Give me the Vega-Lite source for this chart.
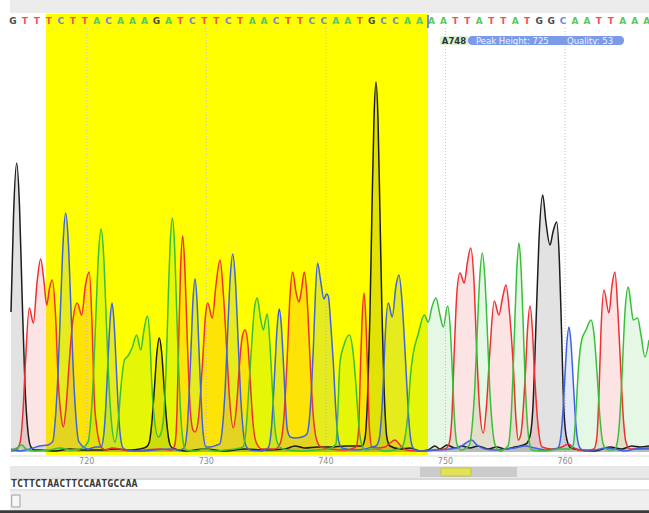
{
"$schema": "https://vega.github.io/schema/vega-lite/v6.json",
"width": 649, "height": 513, "padding": 0, "autosize": {"type": "none"},
"background": "white",
"config": {"view": {"stroke": null}},
"data": {"values": [{}]},
"datasets": {
"ticks": [{"pos":720},{"pos":730},{"pos":740},{"pos":750},{"pos":760}],
"calls": [{"pos":714,"base":"G"},{"pos":715,"base":"T"},{"pos":716,"base":"T"},{"pos":717,"base":"T"},{"pos":718,"base":"C"},{"pos":719,"base":"T"},{"pos":720,"base":"T"},{"pos":721,"base":"A"},{"pos":722,"base":"C"},{"pos":723,"base":"A"},{"pos":724,"base":"A"},{"pos":725,"base":"A"},{"pos":726,"base":"G"},{"pos":727,"base":"A"},{"pos":728,"base":"T"},{"pos":729,"base":"C"},{"pos":730,"base":"T"},{"pos":731,"base":"T"},{"pos":732,"base":"C"},{"pos":733,"base":"T"},{"pos":734,"base":"A"},{"pos":735,"base":"A"},{"pos":736,"base":"C"},{"pos":737,"base":"T"},{"pos":738,"base":"T"},{"pos":739,"base":"C"},{"pos":740,"base":"C"},{"pos":741,"base":"A"},{"pos":742,"base":"A"},{"pos":743,"base":"T"},{"pos":744,"base":"G"},{"pos":745,"base":"C"},{"pos":746,"base":"C"},{"pos":747,"base":"A"},{"pos":748,"base":"A"},{"pos":749,"base":"A"},{"pos":750,"base":"A"},{"pos":751,"base":"T"},{"pos":752,"base":"T"},{"pos":753,"base":"A"},{"pos":754,"base":"T"},{"pos":755,"base":"T"},{"pos":756,"base":"A"},{"pos":757,"base":"T"},{"pos":758,"base":"G"},{"pos":759,"base":"G"},{"pos":760,"base":"C"},{"pos":761,"base":"A"},{"pos":762,"base":"A"},{"pos":763,"base":"T"},{"pos":764,"base":"T"},{"pos":765,"base":"A"},{"pos":766,"base":"A"},{"pos":767,"base":"A"}],
"tr": [
{"base":"G","pos":713.67,"signal":700},{"base":"G","pos":713.88,"signal":1180},{"base":"G","pos":714.15,"signal":1445},{"base":"G","pos":714.38,"signal":1230},{"base":"G","pos":714.59,"signal":800},{"base":"G","pos":714.84,"signal":330},{"base":"G","pos":715.09,"signal":100},{"base":"G","pos":715.34,"signal":25},{"base":"G","pos":715.68,"signal":10},{"base":"G","pos":716.10,"signal":10},{"base":"G","pos":717.35,"signal":5},{"base":"G","pos":718.60,"signal":15},{"base":"G","pos":719.86,"signal":10},{"base":"G","pos":721.11,"signal":10},{"base":"G","pos":722.37,"signal":15},{"base":"G","pos":723.62,"signal":10},{"base":"G","pos":724.46,"signal":15},{"base":"G","pos":724.98,"signal":25},{"base":"G","pos":725.23,"signal":48},{"base":"G","pos":725.44,"signal":143},{"base":"G","pos":725.65,"signal":308},{"base":"G","pos":725.86,"signal":490},{"base":"G","pos":726.07,"signal":570},{"base":"G","pos":726.28,"signal":490},{"base":"G","pos":726.49,"signal":308},{"base":"G","pos":726.70,"signal":143},{"base":"G","pos":726.91,"signal":48},{"base":"G","pos":727.16,"signal":20},{"base":"G","pos":728.22,"signal":5},{"base":"G","pos":729.89,"signal":15},{"base":"G","pos":731.56,"signal":5},{"base":"G","pos":733.24,"signal":15},{"base":"G","pos":734.91,"signal":10},{"base":"G","pos":736.58,"signal":15},{"base":"G","pos":737.42,"signal":30},{"base":"G","pos":738.25,"signal":20},{"base":"G","pos":739.34,"signal":25},{"base":"G","pos":740.34,"signal":25},{"base":"G","pos":741.60,"signal":30},{"base":"G","pos":742.43,"signal":30},{"base":"G","pos":743.02,"signal":30},{"base":"G","pos":743.27,"signal":70},{"base":"G","pos":743.52,"signal":330},{"base":"G","pos":743.69,"signal":700},{"base":"G","pos":743.85,"signal":1200},{"base":"G","pos":744.02,"signal":1660},{"base":"G","pos":744.19,"signal":1850},{"base":"G","pos":744.36,"signal":1660},{"base":"G","pos":744.52,"signal":1200},{"base":"G","pos":744.69,"signal":700},{"base":"G","pos":744.86,"signal":330},{"base":"G","pos":745.11,"signal":70},{"base":"G","pos":745.36,"signal":30},{"base":"G","pos":746.20,"signal":15},{"base":"G","pos":747.03,"signal":20},{"base":"G","pos":747.87,"signal":5},{"base":"G","pos":748.54,"signal":10},{"base":"G","pos":749.12,"signal":30},{"base":"G","pos":749.54,"signal":15},{"base":"G","pos":750.13,"signal":35},{"base":"G","pos":750.79,"signal":20},{"base":"G","pos":751.38,"signal":30},{"base":"G","pos":752.05,"signal":20},{"base":"G","pos":752.72,"signal":30},{"base":"G","pos":753.55,"signal":15},{"base":"G","pos":754.31,"signal":25},{"base":"G","pos":754.98,"signal":15},{"base":"G","pos":755.81,"signal":25},{"base":"G","pos":756.73,"signal":40},{"base":"G","pos":757.07,"signal":80},{"base":"G","pos":757.32,"signal":230},{"base":"G","pos":757.57,"signal":640},{"base":"G","pos":757.82,"signal":1060},{"base":"G","pos":758.13,"signal":1285},{"base":"G","pos":758.40,"signal":1150},{"base":"G","pos":758.74,"signal":1035},{"base":"G","pos":758.99,"signal":1100},{"base":"G","pos":759.30,"signal":1150},{"base":"G","pos":759.53,"signal":950},{"base":"G","pos":759.70,"signal":620},{"base":"G","pos":759.91,"signal":200},{"base":"G","pos":760.16,"signal":60},{"base":"G","pos":760.49,"signal":20},{"base":"G","pos":761.25,"signal":10},{"base":"G","pos":762.50,"signal":5},{"base":"G","pos":763.75,"signal":25},{"base":"G","pos":764.76,"signal":15},{"base":"G","pos":765.59,"signal":30},{"base":"G","pos":766.26,"signal":25},{"base":"G","pos":767.02,"signal":30},
{"base":"T","pos":713.67,"signal":5},{"base":"T","pos":714.09,"signal":10},{"base":"T","pos":714.42,"signal":45},{"base":"T","pos":714.67,"signal":200},{"base":"T","pos":714.88,"signal":450},{"base":"T","pos":715.20,"signal":720},{"base":"T","pos":715.54,"signal":645},{"base":"T","pos":715.85,"signal":850},{"base":"T","pos":716.15,"signal":965},{"base":"T","pos":716.43,"signal":850},{"base":"T","pos":716.66,"signal":735},{"base":"T","pos":716.89,"signal":820},{"base":"T","pos":717.12,"signal":860},{"base":"T","pos":717.39,"signal":690},{"base":"T","pos":717.63,"signal":345},{"base":"T","pos":717.84,"signal":190},{"base":"T","pos":718.04,"signal":125},{"base":"T","pos":718.27,"signal":220},{"base":"T","pos":718.52,"signal":430},{"base":"T","pos":718.77,"signal":620},{"base":"T","pos":719.21,"signal":745},{"base":"T","pos":719.58,"signal":685},{"base":"T","pos":719.90,"signal":835},{"base":"T","pos":720.22,"signal":900},{"base":"T","pos":720.47,"signal":595},{"base":"T","pos":720.64,"signal":260},{"base":"T","pos":720.84,"signal":125},{"base":"T","pos":721.07,"signal":45},{"base":"T","pos":721.28,"signal":20},{"base":"T","pos":721.61,"signal":10},{"base":"T","pos":722.12,"signal":20},{"base":"T","pos":722.78,"signal":15},{"base":"T","pos":723.62,"signal":5},{"base":"T","pos":724.88,"signal":10},{"base":"T","pos":726.13,"signal":15},{"base":"T","pos":727.13,"signal":10},{"base":"T","pos":727.38,"signal":40},{"base":"T","pos":727.55,"signal":200},{"base":"T","pos":727.68,"signal":520},{"base":"T","pos":727.84,"signal":900},{"base":"T","pos":728.03,"signal":1080},{"base":"T","pos":728.22,"signal":900},{"base":"T","pos":728.43,"signal":530},{"base":"T","pos":728.64,"signal":230},{"base":"T","pos":728.89,"signal":110},{"base":"T","pos":729.06,"signal":100},{"base":"T","pos":729.31,"signal":150},{"base":"T","pos":729.56,"signal":330},{"base":"T","pos":729.75,"signal":510},{"base":"T","pos":729.93,"signal":680},{"base":"T","pos":730.12,"signal":745},{"base":"T","pos":730.50,"signal":670},{"base":"T","pos":730.81,"signal":835},{"base":"T","pos":731.15,"signal":960},{"base":"T","pos":731.44,"signal":780},{"base":"T","pos":731.71,"signal":510},{"base":"T","pos":731.94,"signal":270},{"base":"T","pos":732.26,"signal":120},{"base":"T","pos":732.53,"signal":230},{"base":"T","pos":732.78,"signal":440},{"base":"T","pos":732.99,"signal":570},{"base":"T","pos":733.24,"signal":610},{"base":"T","pos":733.49,"signal":530},{"base":"T","pos":733.70,"signal":330},{"base":"T","pos":733.90,"signal":150},{"base":"T","pos":734.16,"signal":50},{"base":"T","pos":734.66,"signal":15},{"base":"T","pos":735.74,"signal":15},{"base":"T","pos":736.16,"signal":40},{"base":"T","pos":736.50,"signal":180},{"base":"T","pos":736.75,"signal":450},{"base":"T","pos":737.00,"signal":780},{"base":"T","pos":737.22,"signal":900},{"base":"T","pos":737.50,"signal":800},{"base":"T","pos":737.75,"signal":750},{"base":"T","pos":737.96,"signal":810},{"base":"T","pos":738.19,"signal":900},{"base":"T","pos":738.42,"signal":780},{"base":"T","pos":738.67,"signal":470},{"base":"T","pos":738.92,"signal":200},{"base":"T","pos":739.23,"signal":60},{"base":"T","pos":739.59,"signal":25},{"base":"T","pos":740.34,"signal":15},{"base":"T","pos":741.60,"signal":10},{"base":"T","pos":742.35,"signal":20},{"base":"T","pos":742.52,"signal":25},{"base":"T","pos":742.73,"signal":110},{"base":"T","pos":742.89,"signal":420},{"base":"T","pos":743.02,"signal":650},{"base":"T","pos":743.19,"signal":795},{"base":"T","pos":743.35,"signal":650},{"base":"T","pos":743.48,"signal":420},{"base":"T","pos":743.65,"signal":110},{"base":"T","pos":743.85,"signal":25},{"base":"T","pos":744.27,"signal":20},{"base":"T","pos":744.94,"signal":25},{"base":"T","pos":745.36,"signal":45},{"base":"T","pos":745.78,"signal":60},{"base":"T","pos":746.20,"signal":35},{"base":"T","pos":746.70,"signal":10},{"base":"T","pos":747.87,"signal":5},{"base":"T","pos":749.12,"signal":10},{"base":"T","pos":749.96,"signal":15},{"base":"T","pos":750.29,"signal":40},{"base":"T","pos":750.54,"signal":180},{"base":"T","pos":750.74,"signal":510},{"base":"T","pos":750.96,"signal":800},{"base":"T","pos":751.21,"signal":895},{"base":"T","pos":751.57,"signal":845},{"base":"T","pos":751.84,"signal":950},{"base":"T","pos":752.11,"signal":1020},{"base":"T","pos":752.38,"signal":860},{"base":"T","pos":752.61,"signal":510},{"base":"T","pos":752.84,"signal":230},{"base":"T","pos":753.16,"signal":95},{"base":"T","pos":753.43,"signal":230},{"base":"T","pos":753.72,"signal":510},{"base":"T","pos":754.08,"signal":755},{"base":"T","pos":754.47,"signal":685},{"base":"T","pos":754.77,"signal":770},{"base":"T","pos":755.06,"signal":835},{"base":"T","pos":755.35,"signal":700},{"base":"T","pos":755.67,"signal":430},{"base":"T","pos":755.90,"signal":160},{"base":"T","pos":756.09,"signal":60},{"base":"T","pos":756.31,"signal":90},{"base":"T","pos":756.52,"signal":230},{"base":"T","pos":756.69,"signal":400},{"base":"T","pos":756.86,"signal":610},{"base":"T","pos":757.07,"signal":730},{"base":"T","pos":757.27,"signal":610},{"base":"T","pos":757.44,"signal":400},{"base":"T","pos":757.61,"signal":230},{"base":"T","pos":757.82,"signal":90},{"base":"T","pos":758.07,"signal":25},{"base":"T","pos":758.91,"signal":15},{"base":"T","pos":759.74,"signal":25},{"base":"T","pos":760.27,"signal":40},{"base":"T","pos":760.74,"signal":20},{"base":"T","pos":761.66,"signal":5},{"base":"T","pos":762.42,"signal":15},{"base":"T","pos":762.67,"signal":80},{"base":"T","pos":762.84,"signal":300},{"base":"T","pos":763.00,"signal":600},{"base":"T","pos":763.25,"signal":810},{"base":"T","pos":763.67,"signal":695},{"base":"T","pos":763.92,"signal":830},{"base":"T","pos":764.17,"signal":900},{"base":"T","pos":764.42,"signal":700},{"base":"T","pos":764.63,"signal":450},{"base":"T","pos":764.84,"signal":200},{"base":"T","pos":765.09,"signal":50},{"base":"T","pos":765.43,"signal":15},{"base":"T","pos":767.02,"signal":15},
{"base":"C","pos":713.67,"signal":15},{"base":"C","pos":714.42,"signal":5},{"base":"C","pos":715.26,"signal":15},{"base":"C","pos":716.10,"signal":30},{"base":"C","pos":716.76,"signal":35},{"base":"C","pos":717.16,"signal":53},{"base":"C","pos":717.41,"signal":191},{"base":"C","pos":717.62,"signal":418},{"base":"C","pos":717.83,"signal":753},{"base":"C","pos":718.04,"signal":1064},{"base":"C","pos":718.24,"signal":1195},{"base":"C","pos":718.45,"signal":1064},{"base":"C","pos":718.66,"signal":753},{"base":"C","pos":718.87,"signal":418},{"base":"C","pos":719.08,"signal":191},{"base":"C","pos":719.33,"signal":53},{"base":"C","pos":720.11,"signal":15},{"base":"C","pos":720.78,"signal":25},{"base":"C","pos":721.20,"signal":25},{"base":"C","pos":721.45,"signal":100},{"base":"C","pos":721.61,"signal":240},{"base":"C","pos":721.78,"signal":455},{"base":"C","pos":721.95,"signal":655},{"base":"C","pos":722.12,"signal":745},{"base":"C","pos":722.28,"signal":655},{"base":"C","pos":722.45,"signal":455},{"base":"C","pos":722.62,"signal":240},{"base":"C","pos":722.78,"signal":100},{"base":"C","pos":723.04,"signal":20},{"base":"C","pos":723.45,"signal":10},{"base":"C","pos":724.46,"signal":5},{"base":"C","pos":725.71,"signal":10},{"base":"C","pos":726.97,"signal":15},{"base":"C","pos":727.80,"signal":10},{"base":"C","pos":728.14,"signal":20},{"base":"C","pos":728.39,"signal":105},{"base":"C","pos":728.55,"signal":270},{"base":"C","pos":728.72,"signal":510},{"base":"C","pos":728.89,"signal":760},{"base":"C","pos":729.06,"signal":865},{"base":"C","pos":729.22,"signal":760},{"base":"C","pos":729.39,"signal":510},{"base":"C","pos":729.56,"signal":270},{"base":"C","pos":729.72,"signal":105},{"base":"C","pos":729.98,"signal":25},{"base":"C","pos":730.31,"signal":25},{"base":"C","pos":730.90,"signal":35},{"base":"C","pos":731.12,"signal":40},{"base":"C","pos":731.37,"signal":134},{"base":"C","pos":731.58,"signal":317},{"base":"C","pos":731.79,"signal":604},{"base":"C","pos":732.00,"signal":871},{"base":"C","pos":732.21,"signal":990},{"base":"C","pos":732.42,"signal":871},{"base":"C","pos":732.63,"signal":604},{"base":"C","pos":732.84,"signal":317},{"base":"C","pos":733.04,"signal":134},{"base":"C","pos":733.30,"signal":34},{"base":"C","pos":733.65,"signal":10},{"base":"C","pos":734.66,"signal":5},{"base":"C","pos":735.18,"signal":21},{"base":"C","pos":735.44,"signal":114},{"base":"C","pos":735.60,"signal":257},{"base":"C","pos":735.77,"signal":458},{"base":"C","pos":735.94,"signal":636},{"base":"C","pos":736.10,"signal":715},{"base":"C","pos":736.27,"signal":636},{"base":"C","pos":736.44,"signal":458},{"base":"C","pos":736.61,"signal":257},{"base":"C","pos":736.77,"signal":114},{"base":"C","pos":737.02,"signal":75},{"base":"C","pos":737.42,"signal":70},{"base":"C","pos":738.00,"signal":75},{"base":"C","pos":738.42,"signal":90},{"base":"C","pos":738.63,"signal":170},{"base":"C","pos":738.80,"signal":320},{"base":"C","pos":738.96,"signal":530},{"base":"C","pos":739.13,"signal":800},{"base":"C","pos":739.31,"signal":945},{"base":"C","pos":739.55,"signal":860},{"base":"C","pos":739.84,"signal":765},{"base":"C","pos":740.05,"signal":790},{"base":"C","pos":740.20,"signal":780},{"base":"C","pos":740.43,"signal":620},{"base":"C","pos":740.62,"signal":450},{"base":"C","pos":740.84,"signal":200},{"base":"C","pos":741.05,"signal":60},{"base":"C","pos":741.35,"signal":20},{"base":"C","pos":742.43,"signal":10},{"base":"C","pos":743.27,"signal":15},{"base":"C","pos":743.85,"signal":25},{"base":"C","pos":744.19,"signal":30},{"base":"C","pos":744.44,"signal":60},{"base":"C","pos":744.65,"signal":180},{"base":"C","pos":744.80,"signal":345},{"base":"C","pos":744.98,"signal":600},{"base":"C","pos":745.22,"signal":745},{"base":"C","pos":745.55,"signal":675},{"base":"C","pos":745.86,"signal":830},{"base":"C","pos":746.11,"signal":885},{"base":"C","pos":746.36,"signal":760},{"base":"C","pos":746.57,"signal":560},{"base":"C","pos":746.76,"signal":345},{"base":"C","pos":746.95,"signal":150},{"base":"C","pos":747.17,"signal":40},{"base":"C","pos":747.45,"signal":10},{"base":"C","pos":747.87,"signal":5},{"base":"C","pos":749.12,"signal":10},{"base":"C","pos":750.38,"signal":15},{"base":"C","pos":751.21,"signal":25},{"base":"C","pos":751.71,"signal":45},{"base":"C","pos":752.19,"signal":60},{"base":"C","pos":752.63,"signal":35},{"base":"C","pos":753.30,"signal":15},{"base":"C","pos":754.14,"signal":10},{"base":"C","pos":754.98,"signal":15},{"base":"C","pos":755.81,"signal":20},{"base":"C","pos":756.65,"signal":30},{"base":"C","pos":757.48,"signal":20},{"base":"C","pos":758.32,"signal":10},{"base":"C","pos":759.16,"signal":15},{"base":"C","pos":759.41,"signal":20},{"base":"C","pos":759.66,"signal":85},{"base":"C","pos":759.82,"signal":200},{"base":"C","pos":759.99,"signal":380},{"base":"C","pos":760.16,"signal":550},{"base":"C","pos":760.33,"signal":625},{"base":"C","pos":760.49,"signal":550},{"base":"C","pos":760.66,"signal":380},{"base":"C","pos":760.83,"signal":200},{"base":"C","pos":760.99,"signal":85},{"base":"C","pos":761.25,"signal":20},{"base":"C","pos":761.50,"signal":10},{"base":"C","pos":762.50,"signal":10},{"base":"C","pos":763.34,"signal":20},{"base":"C","pos":764.17,"signal":15},{"base":"C","pos":765.01,"signal":5},{"base":"C","pos":765.85,"signal":15},{"base":"C","pos":767.02,"signal":20},
{"base":"A","pos":713.67,"signal":10},{"base":"A","pos":714.17,"signal":20},{"base":"A","pos":714.57,"signal":35},{"base":"A","pos":714.93,"signal":15},{"base":"A","pos":715.68,"signal":5},{"base":"A","pos":716.93,"signal":10},{"base":"A","pos":717.77,"signal":20},{"base":"A","pos":718.60,"signal":10},{"base":"A","pos":719.44,"signal":15},{"base":"A","pos":720.11,"signal":49},{"base":"A","pos":720.36,"signal":178},{"base":"A","pos":720.57,"signal":390},{"base":"A","pos":720.78,"signal":702},{"base":"A","pos":720.99,"signal":992},{"base":"A","pos":721.20,"signal":1115},{"base":"A","pos":721.41,"signal":992},{"base":"A","pos":721.61,"signal":702},{"base":"A","pos":721.82,"signal":390},{"base":"A","pos":722.03,"signal":178},{"base":"A","pos":722.37,"signal":50},{"base":"A","pos":722.62,"signal":140},{"base":"A","pos":722.87,"signal":330},{"base":"A","pos":723.16,"signal":460},{"base":"A","pos":723.45,"signal":480},{"base":"A","pos":723.79,"signal":520},{"base":"A","pos":724.18,"signal":585},{"base":"A","pos":724.52,"signal":510},{"base":"A","pos":724.79,"signal":610},{"base":"A","pos":725.07,"signal":680},{"base":"A","pos":725.29,"signal":560},{"base":"A","pos":725.44,"signal":345},{"base":"A","pos":725.67,"signal":160},{"base":"A","pos":725.99,"signal":75},{"base":"A","pos":726.24,"signal":100},{"base":"A","pos":726.49,"signal":222},{"base":"A","pos":726.66,"signal":456},{"base":"A","pos":726.82,"signal":772},{"base":"A","pos":726.99,"signal":1053},{"base":"A","pos":727.16,"signal":1170},{"base":"A","pos":727.33,"signal":1053},{"base":"A","pos":727.49,"signal":772},{"base":"A","pos":727.66,"signal":456},{"base":"A","pos":727.83,"signal":222},{"base":"A","pos":728.08,"signal":47},{"base":"A","pos":728.30,"signal":10},{"base":"A","pos":729.06,"signal":5},{"base":"A","pos":729.89,"signal":15},{"base":"A","pos":730.73,"signal":5},{"base":"A","pos":731.56,"signal":10},{"base":"A","pos":732.40,"signal":15},{"base":"A","pos":733.07,"signal":25},{"base":"A","pos":733.32,"signal":110},{"base":"A","pos":733.57,"signal":330},{"base":"A","pos":733.82,"signal":560},{"base":"A","pos":734.03,"signal":720},{"base":"A","pos":734.26,"signal":770},{"base":"A","pos":734.53,"signal":670},{"base":"A","pos":734.77,"signal":610},{"base":"A","pos":734.95,"signal":660},{"base":"A","pos":735.10,"signal":690},{"base":"A","pos":735.33,"signal":530},{"base":"A","pos":735.54,"signal":300},{"base":"A","pos":735.74,"signal":120},{"base":"A","pos":735.99,"signal":40},{"base":"A","pos":736.41,"signal":15},{"base":"A","pos":737.84,"signal":5},{"base":"A","pos":739.09,"signal":10},{"base":"A","pos":740.18,"signal":15},{"base":"A","pos":740.84,"signal":40},{"base":"A","pos":740.97,"signal":160},{"base":"A","pos":741.18,"signal":450},{"base":"A","pos":741.51,"signal":535},{"base":"A","pos":741.96,"signal":585},{"base":"A","pos":742.27,"signal":500},{"base":"A","pos":742.52,"signal":330},{"base":"A","pos":742.73,"signal":150},{"base":"A","pos":742.94,"signal":50},{"base":"A","pos":743.27,"signal":10},{"base":"A","pos":744.11,"signal":15},{"base":"A","pos":744.94,"signal":5},{"base":"A","pos":745.78,"signal":10},{"base":"A","pos":746.36,"signal":25},{"base":"A","pos":746.61,"signal":70},{"base":"A","pos":746.87,"signal":200},{"base":"A","pos":747.07,"signal":380},{"base":"A","pos":747.31,"signal":495},{"base":"A","pos":747.70,"signal":585},{"base":"A","pos":748.23,"signal":685},{"base":"A","pos":748.56,"signal":650},{"base":"A","pos":748.87,"signal":725},{"base":"A","pos":749.21,"signal":770},{"base":"A","pos":749.54,"signal":685},{"base":"A","pos":749.82,"signal":625},{"base":"A","pos":750.18,"signal":730},{"base":"A","pos":750.42,"signal":600},{"base":"A","pos":750.59,"signal":380},{"base":"A","pos":750.75,"signal":170},{"base":"A","pos":750.96,"signal":40},{"base":"A","pos":751.30,"signal":10},{"base":"A","pos":751.99,"signal":34},{"base":"A","pos":752.24,"signal":134},{"base":"A","pos":752.45,"signal":318},{"base":"A","pos":752.66,"signal":607},{"base":"A","pos":752.87,"signal":876},{"base":"A","pos":753.08,"signal":995},{"base":"A","pos":753.29,"signal":876},{"base":"A","pos":753.50,"signal":607},{"base":"A","pos":753.70,"signal":318},{"base":"A","pos":753.91,"signal":134},{"base":"A","pos":754.16,"signal":34},{"base":"A","pos":754.56,"signal":5},{"base":"A","pos":755.23,"signal":31},{"base":"A","pos":755.48,"signal":167},{"base":"A","pos":755.64,"signal":376},{"base":"A","pos":755.81,"signal":669},{"base":"A","pos":755.98,"signal":930},{"base":"A","pos":756.15,"signal":1045},{"base":"A","pos":756.31,"signal":930},{"base":"A","pos":756.48,"signal":669},{"base":"A","pos":756.65,"signal":376},{"base":"A","pos":756.82,"signal":167},{"base":"A","pos":757.07,"signal":31},{"base":"A","pos":757.23,"signal":10},{"base":"A","pos":758.32,"signal":5},{"base":"A","pos":759.57,"signal":15},{"base":"A","pos":760.41,"signal":15},{"base":"A","pos":760.69,"signal":35},{"base":"A","pos":760.91,"signal":200},{"base":"A","pos":761.12,"signal":420},{"base":"A","pos":761.39,"signal":560},{"base":"A","pos":761.75,"signal":610},{"base":"A","pos":762.17,"signal":660},{"base":"A","pos":762.42,"signal":590},{"base":"A","pos":762.67,"signal":400},{"base":"A","pos":762.92,"signal":170},{"base":"A","pos":763.19,"signal":40},{"base":"A","pos":763.59,"signal":10},{"base":"A","pos":764.09,"signal":10},{"base":"A","pos":764.34,"signal":40},{"base":"A","pos":764.55,"signal":150},{"base":"A","pos":764.76,"signal":380},{"base":"A","pos":765.01,"signal":700},{"base":"A","pos":765.29,"signal":825},{"base":"A","pos":765.51,"signal":735},{"base":"A","pos":765.70,"signal":660},{"base":"A","pos":766.07,"signal":670},{"base":"A","pos":766.35,"signal":585},{"base":"A","pos":766.68,"signal":475},{"base":"A","pos":767.02,"signal":560}
]
},
"layer": [
{"mark": {"type": "rect", "color": "#ececec"},
 "encoding": {
  "x": {"datum": 713.59, "type": "quantitative", "scale": {"domain": [712.75, 767.02], "nice": false, "zero": false}, "axis": null},
  "x2": {"datum": 767.02},
  "y": {"datum": 2260, "type": "quantitative", "scale": {"domain": [-305, 2260], "nice": false, "zero": false}, "axis": null},
  "y2": {"datum": 2195}}},
{"mark": {"type": "rect", "color": "#ffff00"},
 "encoding": {"x": {"datum": 716.6, "type": "quantitative", "axis": null}, "x2": {"datum": 748.54}, "y": {"datum": 2190, "type": "quantitative", "axis": null}, "y2": {"datum": -15}}},
{"data": {"name": "ticks"},
 "mark": {"type": "rule", "color": "#c4c4c4", "strokeDash": [1, 2], "strokeWidth": 1},
 "encoding": {"x": {"field": "pos", "type": "quantitative", "axis": null}, "y": {"datum": -15, "type": "quantitative", "axis": null}, "y2": {"datum": 2120}}},
{"mark": {"type": "rule", "color": "#dadada", "strokeWidth": 1},
 "encoding": {"x": {"datum": 713.59, "type": "quantitative", "axis": null}, "x2": {"datum": 767.02}, "y": {"datum": -20, "type": "quantitative", "axis": null}}},
{"data": {"name": "ticks"},
 "mark": {"type": "text", "fontSize": 8, "font": "DejaVu Sans", "color": "#8c8c8c", "baseline": "middle", "align": "center"},
 "encoding": {"x": {"field": "pos", "type": "quantitative", "axis": null}, "y": {"datum": -50, "type": "quantitative", "axis": null}, "text": {"field": "pos", "type": "quantitative"}}},
{"data": {"name": "tr"},
 "mark": {"type": "area", "interpolate": "monotone", "fillOpacity": 0.13},
 "encoding": {
  "x": {"field": "pos", "type": "quantitative", "axis": null},
  "y": {"field": "signal", "type": "quantitative", "stack": null, "axis": null},
  "y2": {"datum": 0},
  "color": {"field": "base", "type": "nominal", "scale": {"domain": ["A", "C", "G", "T"], "range": ["#38c038", "#3f63e0", "#1c1c1c", "#f03030"]}, "legend": null}}},
{"data": {"name": "tr"},
 "mark": {"type": "line", "interpolate": "monotone", "strokeWidth": 1.5},
 "encoding": {
  "x": {"field": "pos", "type": "quantitative", "axis": null},
  "y": {"field": "signal", "type": "quantitative", "axis": null},
  "color": {"field": "base", "type": "nominal", "legend": null}}},
{"data": {"name": "calls"},
 "mark": {"type": "text", "fontSize": 9, "fontWeight": "bold", "font": "DejaVu Sans", "baseline": "middle", "align": "center", "dx": -2},
 "encoding": {
  "x": {"field": "pos", "type": "quantitative", "axis": null},
  "y": {"datum": 2155, "type": "quantitative", "axis": null},
  "text": {"field": "base"},
  "fill": {"field": "base", "type": "nominal", "scale": {"domain": ["A", "C", "G", "T"], "range": ["#5cc85c", "#7185d0", "#4a4a4a", "#ff5050"]}, "legend": null}}},
{"mark": {"type": "rule", "color": "#3b6fd6", "strokeWidth": 1.5},
 "encoding": {"x": {"datum": 748.54, "type": "quantitative", "axis": null}, "y": {"datum": 2185, "type": "quantitative", "axis": null}, "y2": {"datum": 2120}}},
{"mark": {"type": "rect", "color": "#d9f2d2", "cornerRadius": 2},
 "encoding": {"x": {"datum": 749.54, "type": "quantitative", "axis": null}, "x2": {"datum": 751.88}, "y": {"datum": 2080, "type": "quantitative", "axis": null}, "y2": {"datum": 2035}}},
{"mark": {"type": "rect", "color": "#7b9be8", "cornerRadius": 4},
 "encoding": {"x": {"datum": 751.88, "type": "quantitative", "axis": null}, "x2": {"datum": 764.93}, "y": {"datum": 2080, "type": "quantitative", "axis": null}, "y2": {"datum": 2035}}},
{"mark": {"type": "text", "text": "A748", "fontSize": 8.5, "font": "DejaVu Sans", "fontWeight": "bold", "color": "#333333", "align": "center", "baseline": "middle"},
 "encoding": {"x": {"datum": 750.71, "type": "quantitative", "axis": null}, "y": {"datum": 2057, "type": "quantitative", "axis": null}}},
{"mark": {"type": "text", "text": "Peak Height: 725", "fontSize": 8.5, "font": "DejaVu Sans", "color": "#eef2ff", "align": "left", "baseline": "middle"},
 "encoding": {"x": {"datum": 752.55, "type": "quantitative", "axis": null}, "y": {"datum": 2057, "type": "quantitative", "axis": null}}},
{"mark": {"type": "text", "text": "Quality: 53", "fontSize": 8.5, "font": "DejaVu Sans", "color": "#eef2ff", "align": "left", "baseline": "middle"},
 "encoding": {"x": {"datum": 760.16, "type": "quantitative", "axis": null}, "y": {"datum": 2057, "type": "quantitative", "axis": null}}},
{"mark": {"type": "rect", "color": "#e8e8e8"},
 "encoding": {"x": {"datum": 713.59, "type": "quantitative", "axis": null}, "x2": {"datum": 767.02}, "y": {"datum": -70, "type": "quantitative", "axis": null}, "y2": {"datum": -130}}},
{"mark": {"type": "rect", "color": "#cbcbcb"},
 "encoding": {"x": {"datum": 747.87, "type": "quantitative", "axis": null}, "x2": {"datum": 755.98}, "y": {"datum": -75, "type": "quantitative", "axis": null}, "y2": {"datum": -125}}},
{"mark": {"type": "rect", "color": "#e2e25a", "stroke": "#c4c44a", "strokeWidth": 1},
 "encoding": {"x": {"datum": 749.62, "type": "quantitative", "axis": null}, "x2": {"datum": 752.13}, "y": {"datum": -80, "type": "quantitative", "axis": null}, "y2": {"datum": -120}}},
{"mark": {"type": "rule", "color": "#b0b0b0", "strokeWidth": 1},
 "encoding": {"x": {"datum": 713.59, "type": "quantitative", "axis": null}, "x2": {"datum": 767.02}, "y": {"datum": -135, "type": "quantitative", "axis": null}}},
{"mark": {"type": "rule", "color": "#c8c8c8", "strokeWidth": 1},
 "encoding": {"x": {"datum": 713.59, "type": "quantitative", "axis": null}, "x2": {"datum": 767.02}, "y": {"datum": -190, "type": "quantitative", "axis": null}}},
{"mark": {"type": "text", "text": "TCTTCTAACTTCCAATGCCAA", "fontSize": 10, "font": "DejaVu Sans Mono", "fontWeight": "bold", "color": "#3a3a3a", "align": "left", "baseline": "middle"},
 "encoding": {"x": {"datum": 713.67, "type": "quantitative", "axis": null}, "y": {"datum": -162, "type": "quantitative", "axis": null}}},
{"mark": {"type": "rect", "color": "#efefef"},
 "encoding": {"x": {"datum": 713.59, "type": "quantitative", "axis": null}, "x2": {"datum": 767.02}, "y": {"datum": -195, "type": "quantitative", "axis": null}, "y2": {"datum": -290}}},
{"mark": {"type": "rect", "fill": "#f7f7f7", "stroke": "#a0a0a0", "strokeWidth": 1},
 "encoding": {"x": {"datum": 713.73, "type": "quantitative", "axis": null}, "x2": {"datum": 714.42}, "y": {"datum": -215, "type": "quantitative", "axis": null}, "y2": {"datum": -275}}},
{"mark": {"type": "rect", "color": "#3a3a3a"},
 "encoding": {"x": {"datum": 712.75, "type": "quantitative", "axis": null}, "x2": {"datum": 767.02}, "y": {"datum": -291, "type": "quantitative", "axis": null}, "y2": {"datum": -305}}}
]
}
